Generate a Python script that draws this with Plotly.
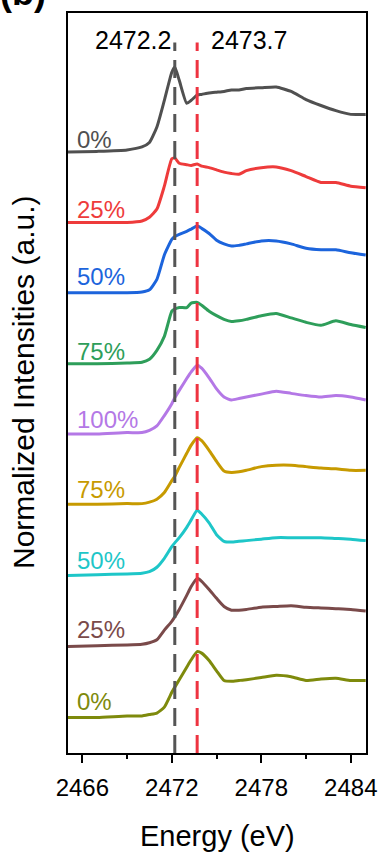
import plotly.graph_objects as go

energy = [2465, 2467, 2469, 2470, 2470.5, 2471, 2471.5, 2472, 2472.2, 2472.5, 2473, 2473.3,
          2473.7, 2474, 2474.5, 2475, 2475.5, 2476, 2476.5, 2477, 2478, 2479, 2480, 2481,
          2482, 2483, 2484, 2485]

gray_0 = [0, 0.01, 0.03, 0.07, 0.13, 0.34, 0.70, 1.08, 1.15, 0.97, 0.66, 0.70, 0.77, 0.78,
          0.80, 0.81, 0.82, 0.84, 0.84, 0.86, 0.87, 0.88, 0.82, 0.71, 0.63, 0.56, 0.51, 0.51]
red_25 = [0, 0, 0, 0.02, 0.07, 0.18, 0.49, 0.86, 0.87, 0.80, 0.78, 0.77, 0.79, 0.76, 0.74,
          0.71, 0.68, 0.66, 0.65, 0.70, 0.74, 0.75, 0.70, 0.62, 0.54, 0.54, 0.49, 0.47]
blue_50 = [0, 0, 0, 0.01, 0.04, 0.18, 0.51, 0.72, 0.76, 0.79, 0.83, 0.86, 0.90, 0.87, 0.80,
           0.71, 0.66, 0.63, 0.64, 0.66, 0.70, 0.70, 0.66, 0.60, 0.58, 0.58, 0.54, 0.51]
green_75 = [0, 0, 0.01, 0.02, 0.06, 0.18, 0.37, 0.71, 0.74, 0.76, 0.76, 0.82, 0.83, 0.79,
            0.71, 0.65, 0.60, 0.57, 0.58, 0.60, 0.65, 0.68, 0.62, 0.56, 0.52, 0.58, 0.53, 0.49]
purple_100 = [0, 0, 0.02, 0.02, 0.05, 0.11, 0.25, 0.41, 0.49, 0.59, 0.75, 0.84, 0.93, 0.89,
              0.76, 0.61, 0.50, 0.46, 0.48, 0.50, 0.54, 0.58, 0.55, 0.52, 0.50, 0.52, 0.50, 0.46]
gold_75 = [0, 0, 0.01, 0.01, 0.03, 0.07, 0.16, 0.32, 0.38, 0.50, 0.69, 0.80, 0.90, 0.86,
           0.73, 0.58, 0.45, 0.43, 0.44, 0.46, 0.51, 0.53, 0.53, 0.51, 0.49, 0.48, 0.46, 0.46]
cyan_50 = [0, 0.01, 0.02, 0.03, 0.05, 0.11, 0.23, 0.39, 0.44, 0.51, 0.65, 0.75, 0.88, 0.83,
           0.71, 0.55, 0.46, 0.45, 0.46, 0.47, 0.49, 0.51, 0.51, 0.51, 0.51, 0.50, 0.49, 0.47]
brown_25 = [0, 0.01, 0.02, 0.03, 0.05, 0.09, 0.22, 0.34, 0.40, 0.50, 0.69, 0.81, 0.92, 0.88,
            0.77, 0.65, 0.54, 0.49, 0.49, 0.50, 0.53, 0.54, 0.55, 0.53, 0.52, 0.51, 0.50, 0.48]
olive_0 = [0, 0, 0.02, 0.02, 0.04, 0.06, 0.14, 0.34, 0.41, 0.51, 0.68, 0.78, 0.89, 0.87,
           0.77, 0.63, 0.50, 0.49, 0.50, 0.51, 0.54, 0.57, 0.55, 0.50, 0.52, 0.53, 0.50, 0.50]

series = [gray_0, red_25, blue_50, green_75, purple_100, gold_75, cyan_50, brown_25, olive_0]
labels = ["0%", "25%", "50%", "75%", "100%", "75%", "50%", "25%", "0%"]
offsets = [8.12, 7.17, 6.22, 5.26, 4.31, 3.36, 2.40, 1.44, 0.48]
label_lift = [0.17, 0.18, 0.22, 0.17, 0.20, 0.195, 0.195, 0.235, 0.21]
colors = ["#505050", "#ee3b3b", "#1c64dc", "#2e9e5a", "#b478e6", "#c79a00", "#1ec6c8",
          "#7a4a4a", "#7e8a0c"]

ref_lines = [2472.2, 2473.7]
ref_labels = ["2472.2", "2473.7"]
ref_colors = ["#555555", "#ee3340"]
ref_top = 9.6

x_ticks = [2466, 2472, 2478, 2484]
x_minor = [2469, 2475, 2481]

FONT = "Liberation Sans, Arial, sans-serif"

fig = go.Figure()
for vals, off, col in zip(series, offsets, colors):
    fig.add_trace(go.Scatter(x=energy, y=[v + off for v in vals], mode="lines",
                             line=dict(color=col, width=3, shape="spline", smoothing=0.5),
                             showlegend=False, hoverinfo="skip"))
for xv, col in zip(ref_lines, ref_colors):
    fig.add_trace(go.Scatter(x=[xv, xv], y=[0, ref_top], mode="lines",
                             line=dict(color=col, width=3, dash="18px,9px"),
                             showlegend=False, hoverinfo="skip"))

annotations = []
for lab, off, lift, col in zip(labels, offsets, label_lift, colors):
    annotations.append(dict(x=2465.5, y=off + lift, xref="x", yref="y", text=lab,
                            showarrow=False, xanchor="left", yanchor="middle",
                            font=dict(family=FONT, size=24, color=col)))
annotations.append(dict(x=ref_lines[0], y=9.63, xref="x", yref="y", text=ref_labels[0],
                        showarrow=False, xanchor="right", yanchor="middle", xshift=-2,
                        font=dict(family=FONT, size=25, color="black")))
annotations.append(dict(x=ref_lines[1], y=9.63, xref="x", yref="y", text=ref_labels[1],
                        showarrow=False, xanchor="left", yanchor="middle", xshift=12,
                        font=dict(family=FONT, size=25, color="black")))
annotations.append(dict(x=0.5, y=0, xref="paper", yref="paper", text="Energy (eV)",
                        showarrow=False, xanchor="center", yanchor="middle", yshift=-83,
                        font=dict(family=FONT, size=29, color="black")))
annotations.append(dict(x=0, y=0.5, xref="paper", yref="paper",
                        text="Normalized Intensities (a.u.)", textangle=-90,
                        showarrow=False, xanchor="center", yanchor="middle", xshift=-45,
                        yshift=0,
                        font=dict(family=FONT, size=30, color="black")))
annotations.append(dict(x=0, y=1, xref="paper", yref="paper", text="<b>(b)</b>",
                        showarrow=False, xanchor="left", yanchor="bottom", xshift=-70,
                        yshift=-2,
                        font=dict(family=FONT, size=36, color="black")))

fig.update_layout(
    width=388, height=856,
    margin=dict(l=68, r=13, t=11, b=103),
    paper_bgcolor="white", plot_bgcolor="white",
    annotations=annotations,
    xaxis=dict(range=[2465.04, 2485.02], tickvals=x_ticks, ticks="outside", ticklen=8,
               tickwidth=2, tickcolor="black", showline=True, linewidth=2,
               linecolor="black", mirror=True, showgrid=False, zeroline=False,
               ticklabelstandoff=4,
               tickfont=dict(family=FONT, size=24, color="black"),
               minor=dict(tickvals=x_minor, ticks="outside", ticklen=4, tickwidth=2,
                          tickcolor="black")),
    yaxis=dict(range=[0, 10], showticklabels=False, ticks="", showline=True, linewidth=2,
               linecolor="black", mirror=True, showgrid=False, zeroline=False),
)

fig.write_html("out.html")
